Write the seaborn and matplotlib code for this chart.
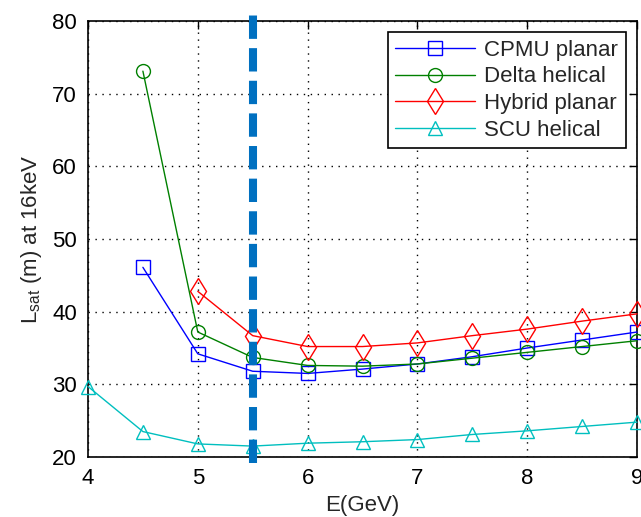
import matplotlib
matplotlib.use("Agg")
import matplotlib.pyplot as plt
import seaborn as sns
import pandas as pd

energy = [4.0, 4.5, 5.0, 5.5, 6.0, 6.5, 7.0, 7.5, 8.0, 8.5, 9.0]
cpmu = [None, 46.1, 34.2, 31.8, 31.5, 32.1, 32.8, 33.8, 35.0, 36.1, 37.2]
delta = [None, 73.1, 37.2, 33.7, 32.6, 32.5, 32.8, 33.6, 34.4, 35.2, 36.0]
hybrid = [None, None, 42.8, 36.7, 35.2, 35.2, 35.7, 36.7, 37.6, 38.7, 39.7]
scu = [29.7, 23.5, 21.8, 21.5, 21.9, 22.1, 22.4, 23.1, 23.6, 24.2, 24.8]
series_names = ["CPMU planar", "Delta helical", "Hybrid planar", "SCU helical"]
series_colors = ["#0000ff", "#008000", "#ff0000", "#00bfbf"]
series_markers = ["s", "o", "d", "^"]
marker_sizes = [10, 10, 13, 10]
vline_x = 5.5
vline_y = [19.2, 81.1]

sns.set_style("white")
plt.rcParams['font.family'] = ['Liberation Sans', 'DejaVu Sans']
plt.rcParams['mathtext.fontset'] = 'custom'
plt.rcParams['mathtext.rm'] = 'Liberation Sans'

fig = plt.figure(figsize=(6.41, 5.17), dpi=100)
ax = fig.add_axes([88/641, 1-457/517, (637-88)/641, (457-21)/517])

for name, vals, col, mk, ms in zip(series_names, [cpmu, delta, hybrid, scu],
                                   series_colors, series_markers, marker_sizes):
    df = pd.DataFrame({"E": energy, "L": vals}).dropna()
    sns.lineplot(data=df, x="E", y="L", ax=ax, color=col, marker=mk,
                 markersize=ms, markerfacecolor="none", markeredgecolor=col,
                 markeredgewidth=1.0, linewidth=1.0, label=name, clip_on=False,
                 zorder=3)

ax.plot([vline_x, vline_x], vline_y, color="#0070c0", linewidth=5.8,
        dashes=(2.9, 1.15), clip_on=False, zorder=4, solid_capstyle="butt",
        dash_capstyle="butt")

ax.set_xlim(4, 9)
ax.set_ylim(20, 80)
ax.set_xticks([4, 5, 6, 7, 8, 9])
ax.set_yticks([20, 30, 40, 50, 60, 70, 80])
ax.grid(True, color="black", linestyle=(0, (1, 4)), linewidth=1.0)
ax.tick_params(direction="in", length=6, width=1, top=True, right=True,
               labelsize=16, colors="black", pad=8)
for s in ax.spines.values():
    s.set_color("black")
    s.set_linewidth(1.2)
    s.set_visible(True)

ax.set_xlabel("E(GeV)", fontsize=16, labelpad=4)
ax.set_ylabel(r"L$_{\mathregular{sat}}$ (m) at 16keV", fontsize=16, labelpad=6)

leg = ax.legend(loc="upper right", fontsize=16, frameon=True, fancybox=False,
                edgecolor="black", framealpha=1, borderaxespad=0.5,
                handlelength=3.6, labelspacing=0.25, borderpad=0.35,
                handletextpad=0.4)
leg.get_frame().set_linewidth(1.2)

fig.savefig("out.png", dpi=100)
